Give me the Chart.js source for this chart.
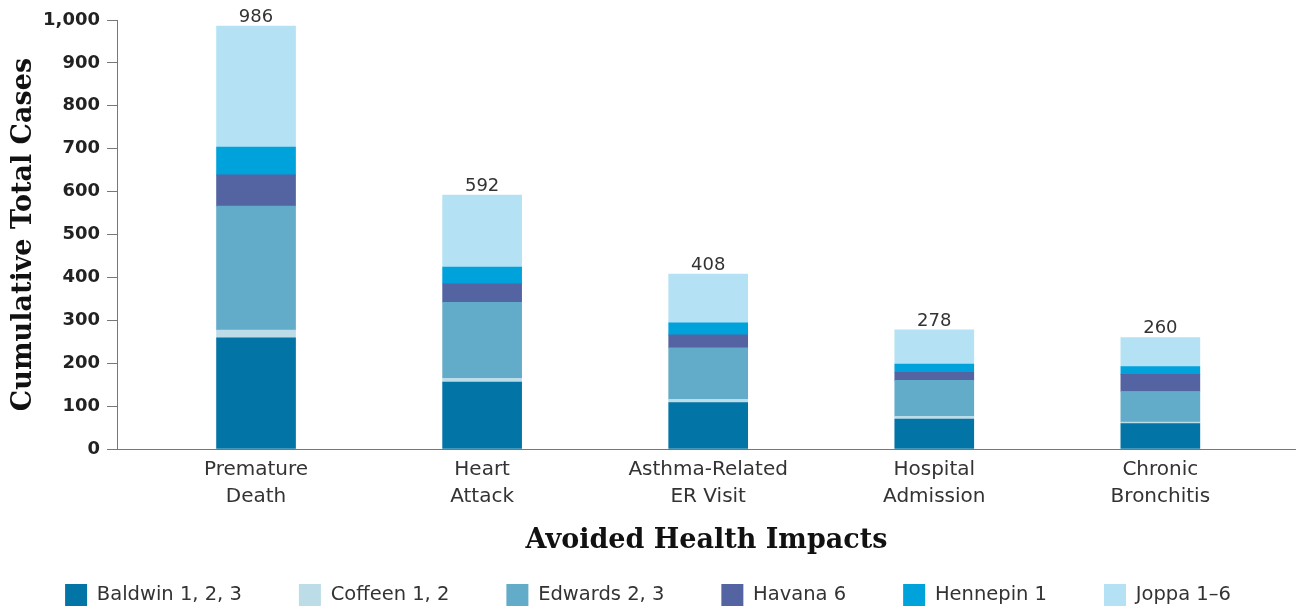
<!DOCTYPE html>
<html>
<head>
<meta charset="utf-8">
<script src="https://cdn.jsdelivr.net/npm/chart.js@4"></script>
<style>
  body { margin: 0; background: #fff; }
  #wrap { width: 1296px; height: 610px; }
</style>
</head>
<body>
<div id="wrap"><canvas id="chart"></canvas></div>
<script>
const categories = [
  ["Premature", "Death"],
  ["Heart", "Attack"],
  ["Asthma-Related", "ER Visit"],
  ["Hospital", "Admission"],
  ["Chronic", "Bronchitis"],
];
const baldwin = [259, 156, 108, 70, 59];
const coffeen = [18, 9, 8, 6, 4];
const edwards = [289, 177, 120, 84, 71];
const havana = [73, 43, 30, 19, 40];
const hennepin = [65, 39, 28, 19, 18];
const joppa = [282, 168, 114, 80, 68];
const totals = [986, 592, 408, 278, 260];

const seriesNames = ["Baldwin 1, 2, 3", "Coffeen 1, 2", "Edwards 2, 3", "Havana 6", "Hennepin 1", "Joppa 1–6"];
const seriesColors = ["#0274a6", "#bcdce8", "#62abc9", "#5463a1", "#00a2dc", "#b4e2f4"];
const series = [baldwin, coffeen, edwards, havana, hennepin, joppa];

const datasets = series.map((vals, k) => ({
  label: seriesNames[k],
  backgroundColor: seriesColors[k],
  borderWidth: 0,
  barThickness: 79,
  data: vals.map((v, i) => ({ x: i, y: v })),
}));

// totals above each stack
const totalLabels = {
  id: "totalLabels",
  afterDatasetsDraw: (chart) => {
    const { ctx, scales } = chart;
    ctx.save();
    ctx.font = "18px 'DejaVu Sans'";
    ctx.fillStyle = "#333";
    ctx.textAlign = "center";
    ctx.textBaseline = "alphabetic";
    totals.forEach((t, i) => {
      ctx.fillText(String(t), scales.x.getPixelForValue(i), scales.y.getPixelForValue(t) - 4);
    });
    ctx.restore();
  },
};

new Chart(document.getElementById("chart"), {
  type: "bar",
  data: { datasets: datasets },
  options: {
    responsive: true,
    maintainAspectRatio: false,
    animation: false,
    layout: { padding: { top: 20, left: 0, right: 0, bottom: -6 } },
    scales: {
      x: {
        type: "linear",
        stacked: true,
        offset: false,
        min: -0.615,
        max: 4.6,
        afterBuildTicks: (scale) => {
          scale.ticks = categories.map((_, i) => ({ value: i }));
        },
        afterFit: (scale) => {
          scale.height = 78;
        },
        ticks: {
          autoSkip: false,
          maxRotation: 0,
          padding: 7,
          color: "#333",
          font: { family: "'DejaVu Sans'", size: 20, lineHeight: 1.35 },
          callback: (v) => categories[v],
        },
        grid: { display: true, offset: false, drawOnChartArea: false, drawTicks: false },
        border: { display: true, color: "#777", width: 1 },
        title: {
          display: true,
          text: "Avoided Health Impacts",
          color: "#111",
          font: { family: "'DejaVu Serif'", size: 27, weight: "bold", lineHeight: 1 },
          padding: { top: 0, bottom: -27 },
        },
      },
      y: {
        stacked: true,
        min: 0,
        max: 1000,
        afterFit: (scale) => {
          scale.width = 117;
        },
        ticks: {
          stepSize: 100,
          padding: 7,
          color: "#222",
          font: { family: "'DejaVu Sans'", size: 18, weight: "bold" },
          callback: (v) => v.toLocaleString("en-US"),
        },
        grid: { drawOnChartArea: false, drawTicks: true, tickLength: 10, color: "#777" },
        border: { display: true, color: "#777", width: 1 },
        title: {
          display: true,
          text: "Cumulative Total Cases",
          color: "#111",
          font: { family: "'DejaVu Serif'", size: 27, weight: "bold", lineHeight: 1 },
          padding: { top: 10, bottom: 0 },
        },
      },
    },
    plugins: {
      legend: {
        position: "bottom",
        align: "center",
        labels: {
          boxWidth: 22,
          boxHeight: 22,
          padding: 57,
          color: "#333",
          font: { family: "'DejaVu Sans'", size: 19.5 },
        },
      },
      tooltip: { enabled: false },
    },
  },
  plugins: [totalLabels],
});
</script>
</body>
</html>
